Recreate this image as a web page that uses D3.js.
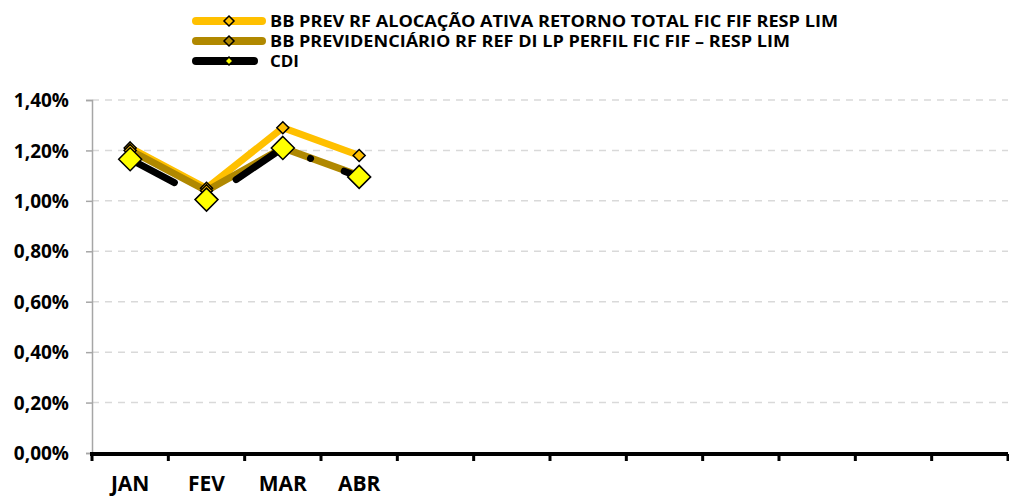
<!DOCTYPE html>
<html>
<head>
<meta charset="utf-8">
<script src="https://cdn.jsdelivr.net/npm/d3@7"></script>
<style>
  body { margin: 0; background: #fff; }
  text { font-family: "Open Sans", "DejaVu Sans", sans-serif; font-weight: bold; fill: #000; }
</style>
</head>
<body>
<div id="chart"></div>
<script>
// Data
const months = ["JAN", "FEV", "MAR", "ABR", "MAI", "JUN", "JUL", "AGO", "SET", "OUT", "NOV", "DEZ"];
const monthLabels = ["JAN", "FEV", "MAR", "ABR", "", "", "", "", "", "", "", ""];
const seriesNames = [
    "BB PREV RF ALOCAÇÃO ATIVA RETORNO TOTAL FIC FIF RESP LIM",
    "BB PREVIDENCIÁRIO RF REF DI LP PERFIL FIC FIF – RESP LIM",
    "CDI"
];
const alocacaoValues = [1.21, 1.05, 1.29, 1.18];
const perfilValues = [1.20, 1.04, 1.21, 1.10];
const cdiValues = [1.165, 1.005, 1.21, 1.095];
const yTicks = [0, 0.2, 0.4, 0.6, 0.8, 1.0, 1.2, 1.4];

var width = 1009,
    height = 497,
    plotLeft = 92,
    plotRight = 1008,
    plotTop = 100,
    plotBottom = 453;

var svg = d3.select("#chart")
    .append("svg")
    .attr("width", width)
    .attr("height", height);

var x = d3.scaleBand()
    .domain(months)
    .range([plotLeft, plotRight]);

var y = d3.scaleLinear()
    .domain([0, 1.4])
    .range([plotBottom, plotTop]);

// gridlines
svg.append("g")
    .selectAll("line")
    .data(yTicks.slice(1))
    .enter()
    .append("line")
    .attr("x1", plotLeft)
    .attr("x2", plotRight)
    .attr("y1", d => y(d))
    .attr("y2", d => y(d))
    .attr("stroke", "#d9d9d9")
    .attr("stroke-width", 1.5)
    .attr("stroke-dasharray", "7 6");

// y axis
var yAxis = svg.append("g")
    .attr("transform", "translate(" + plotLeft + ",0)")
    .call(d3.axisLeft(y)
        .tickValues(yTicks)
        .tickSize(6)
        .tickFormat(d => d3.format(".2f")(d).replace(".", ",") + "%"));
yAxis.select(".domain").attr("stroke", "#a6a6a6").attr("stroke-width", 1.5);
yAxis.selectAll(".tick line").attr("stroke", "#a6a6a6").attr("stroke-width", 1.5);
yAxis.selectAll(".tick text")
    .attr("x", -23)
    .attr("dy", "0.35em")
    .style("font-size", "19px")
    .style("font-family", "\"Open Sans\", sans-serif")
    .style("font-weight", "bold")
    .attr("fill", "#000");

// x axis
var xAxis = svg.append("g")
    .attr("transform", "translate(0," + plotBottom + ")");
xAxis.append("line")
    .attr("x1", plotLeft - 2)
    .attr("x2", plotRight)
    .attr("y1", 1)
    .attr("y2", 1)
    .attr("stroke", "#000")
    .attr("stroke-width", 4);
xAxis.selectAll("line.tick")
    .data(months.concat(["end"]))
    .enter()
    .append("line")
    .attr("class", "tick")
    .attr("x1", (d, i) => i < months.length ? x(d) : plotRight)
    .attr("x2", (d, i) => i < months.length ? x(d) : plotRight)
    .attr("y1", 1)
    .attr("y2", 8)
    .attr("stroke", "#000")
    .attr("stroke-width", 3);
xAxis.selectAll("text")
    .data(monthLabels)
    .enter()
    .append("text")
    .attr("x", (d, i) => x(months[i]) + x.bandwidth() / 2)
    .attr("y", 38)
    .attr("text-anchor", "middle")
    .style("font-size", "21px")
    .text(d => d);

var line = d3.line()
    .x((d, i) => x(months[i]) + x.bandwidth() / 2)
    .y(d => y(d));

var diamondPath = function(half) {
    return "M0," + (-half) + "L" + half + ",0L0," + half + "L" + (-half) + ",0Z";
};

// series 1
svg.append("path")
    .datum(alocacaoValues)
    .attr("d", line)
    .attr("fill", "none")
    .attr("stroke", "#ffc000")
    .attr("stroke-width", 7);
// series 2
svg.append("path")
    .datum(perfilValues)
    .attr("d", line)
    .attr("fill", "none")
    .attr("stroke", "#b08800")
    .attr("stroke-width", 7);

svg.selectAll(".m1")
    .data(alocacaoValues)
    .enter()
    .append("path")
    .attr("transform", (d, i) => "translate(" + (x(months[i]) + x.bandwidth() / 2) + "," + y(d) + ")")
    .attr("d", diamondPath(6))
    .attr("fill", "#ffc000")
    .attr("stroke", "#000")
    .attr("stroke-width", 1.5);
svg.selectAll(".m2")
    .data(perfilValues)
    .enter()
    .append("path")
    .attr("transform", (d, i) => "translate(" + (x(months[i]) + x.bandwidth() / 2) + "," + y(d) + ")")
    .attr("d", diamondPath(6))
    .attr("fill", "#ffc000")
    .attr("stroke", "#000")
    .attr("stroke-width", 1.5);

// CDI (long dash dot)
svg.append("path")
    .datum(cdiValues)
    .attr("d", line)
    .attr("fill", "none")
    .attr("stroke", "#000")
    .attr("stroke-width", 7)
    .attr("stroke-linecap", "round")
    .attr("stroke-dasharray", "50 36 0.1 36");

svg.selectAll(".m3")
    .data(cdiValues)
    .enter()
    .append("path")
    .attr("transform", (d, i) => "translate(" + (x(months[i]) + x.bandwidth() / 2) + "," + y(d) + ")")
    .attr("d", diamondPath(11.5))
    .attr("fill", "#ffff00")
    .attr("stroke", "#000")
    .attr("stroke-width", 1.5);

// legend
var legendColors = ["#ffc000", "#b08800", "#000"];
var legendFills = ["#ffc000", "#b08800", "#ffff00"];
var legendWidths = [568, 520, 29];
var legend = svg.append("g");
seriesNames.forEach(function(name, i) {
    let ly = 21 + i * 20;
    let x2 = i < 2 ? 262 : 254;
    legend.append("line")
        .attr("x1", 196)
        .attr("x2", x2)
        .attr("y1", ly)
        .attr("y2", ly)
        .attr("stroke", legendColors[i])
        .attr("stroke-width", 8)
        .attr("stroke-linecap", "round");
    legend.append("path")
        .attr("transform", "translate(229," + ly + ")")
        .attr("d", diamondPath(i < 2 ? 5 : 4))
        .attr("fill", legendFills[i])
        .attr("stroke", "#000")
        .attr("stroke-width", 1.5);
    legend.append("text")
        .attr("x", 270)
        .attr("y", ly + 6)
        .attr("textLength", legendWidths[i])
        .attr("lengthAdjust", "spacingAndGlyphs")
        .style("font-size", "16px")
        .text(name);
});
</script>
</body>
</html>
